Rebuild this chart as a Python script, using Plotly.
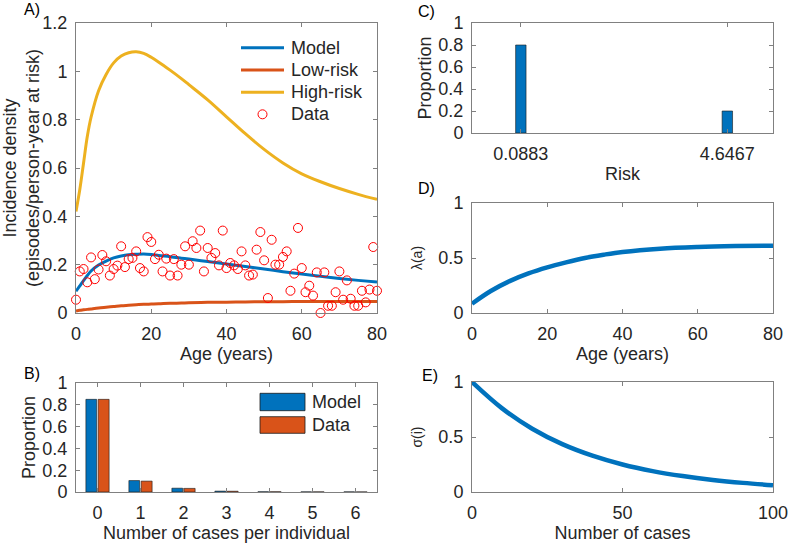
import plotly.graph_objects as go

# ---------------- data ----------------
# Panel A: incidence density data (ages 0..80)
data_age = list(range(81))
data_inc = [0.055, 0.172, 0.182, 0.127, 0.23, 0.14, 0.18, 0.24, 0.214, 0.155,
            0.182, 0.196, 0.276, 0.19, 0.223, 0.228, 0.255, 0.186, 0.172, 0.314,
            0.294, 0.223, 0.241, 0.172, 0.225, 0.155, 0.223, 0.155, 0.2, 0.276,
            0.2, 0.297, 0.269, 0.341, 0.172, 0.269, 0.228, 0.248, 0.197, 0.341,
            0.186, 0.207, 0.197, 0.182, 0.255, 0.197, 0.155, 0.159, 0.262, 0.335,
            0.218, 0.062, 0.303, 0.2, 0.2, 0.232, 0.255, 0.092, 0.163, 0.352,
            0.186, 0.086, 0.113, 0.072, 0.168, 0.0, 0.168, 0.03, 0.03, 0.086,
            0.172, 0.055, 0.135, 0.059, 0.03, 0.03, 0.092, 0.044, 0.097, 0.273,
            0.092]

curve_age = [0, 1, 2, 3, 4, 6, 8, 10, 12, 14, 16, 18, 20, 22, 25, 28, 30, 35,
             40, 45, 50, 55, 60, 65, 70, 75, 80]
model_inc = [0.09, 0.112, 0.134, 0.155, 0.174, 0.199, 0.215, 0.228, 0.236, 0.241,
             0.243, 0.244, 0.242, 0.238, 0.233, 0.227, 0.223, 0.213, 0.203, 0.192,
             0.182, 0.171, 0.161, 0.152, 0.143, 0.135, 0.128]
low_inc = [0.008, 0.011, 0.013, 0.015, 0.017, 0.021, 0.024, 0.027, 0.03, 0.032,
           0.034, 0.036, 0.037, 0.038, 0.04, 0.041, 0.042, 0.044, 0.045, 0.046,
           0.047, 0.047, 0.048, 0.048, 0.048, 0.048, 0.048]
high_inc = [0.42, 0.51, 0.62, 0.73, 0.81, 0.92, 0.987, 1.035, 1.063, 1.077,
            1.081, 1.074, 1.058, 1.038, 1.005, 0.97, 0.945, 0.882, 0.812, 0.742,
            0.677, 0.621, 0.576, 0.543, 0.515, 0.491, 0.47]
series_names = ["Model", "Low-risk", "High-risk", "Data"]

# Panel B: cases per individual
cases = [0, 1, 2, 3, 4, 5, 6]
prop_model = [0.85, 0.105, 0.035, 0.008, 0.002, 0.001, 0.001]
prop_data = [0.85, 0.1, 0.033, 0.007, 0.002, 0.001, 0.0005]
bar_names = ["Model", "Data"]

# Panel C: risk distribution
risk_vals = [0.0883, 4.6467]
risk_prop = [0.8, 0.2]
risk_labels = ["0.0883", "4.6467"]

# Panel D: lambda(a)
lam_age = [0, 5, 10, 15, 20, 25, 30, 35, 40, 50, 60, 70, 80]
lam_val = [0.085, 0.2, 0.29, 0.36, 0.415, 0.46, 0.5, 0.53, 0.555, 0.585, 0.6, 0.608, 0.612]

# Panel E: sigma(i)
sig_i = [0, 10, 20, 30, 40, 50, 60, 70, 80, 90, 100]
sig_val = [1, 0.76, 0.575, 0.435, 0.33, 0.25, 0.19, 0.145, 0.11, 0.083, 0.062]

# ---------------- style ----------------
BLUE = "#0072BD"
ORANGE = "#D95319"
YELLOW = "#EDB120"
RED = "#FF0000"
FONT = "Liberation Sans, Arial, sans-serif"
TXT = "#262626"
AX = "#808080"
EDGE = "#1a1a1a"
W, H = 788, 543
TICK_SIZE = 18
TITLE_SIZE = 18

def px_x(p):
    return p / W

def px_y(p):
    return 1 - p / H

fig = go.Figure()

# Panel A
fig.add_trace(go.Scatter(x=curve_age, y=model_inc, mode="lines", name=series_names[0],
                         line=dict(color=BLUE, width=3, shape="spline"),
                         xaxis="x", yaxis="y"))
fig.add_trace(go.Scatter(x=curve_age, y=low_inc, mode="lines", name=series_names[1],
                         line=dict(color=ORANGE, width=3, shape="spline"),
                         xaxis="x", yaxis="y"))
fig.add_trace(go.Scatter(x=curve_age, y=high_inc, mode="lines", name=series_names[2],
                         line=dict(color=YELLOW, width=3, shape="spline"),
                         xaxis="x", yaxis="y"))
fig.add_trace(go.Scatter(x=data_age, y=data_inc, mode="markers", name=series_names[3],
                         marker=dict(symbol="circle-open", size=9, color=RED,
                                     line=dict(width=1, color=RED)),
                         xaxis="x", yaxis="y", cliponaxis=False))

# Panel B
fig.add_trace(go.Bar(x=cases, y=prop_model, name=bar_names[0],
                     marker=dict(color=BLUE, line=dict(color=EDGE, width=0.6)),
                     width=0.25, offset=-0.27, xaxis="x2", yaxis="y2"))
fig.add_trace(go.Bar(x=cases, y=prop_data, name=bar_names[1],
                     marker=dict(color=ORANGE, line=dict(color=EDGE, width=0.6)),
                     width=0.255, offset=0.015, xaxis="x2", yaxis="y2"))

# Panel C
fig.add_trace(go.Bar(x=risk_vals, y=risk_prop, width=0.23,
                     marker=dict(color=BLUE, line=dict(color=EDGE, width=0.6)),
                     xaxis="x3", yaxis="y3"))

# Panel D
fig.add_trace(go.Scatter(x=lam_age, y=lam_val, mode="lines",
                         line=dict(color=BLUE, width=4.5, shape="spline"),
                         xaxis="x4", yaxis="y4"))

# Panel E
fig.add_trace(go.Scatter(x=sig_i, y=sig_val, mode="lines",
                         line=dict(color=BLUE, width=4.5, shape="spline"),
                         xaxis="x5", yaxis="y5"))

LEFT = [px_x(76), px_x(377)]
RIGHT = [px_x(472), px_x(773)]

def axis(domain, rng, tickvals=None, ticktext=None, anchor=None, title=None,
         standoff=4, title_size=TITLE_SIZE):
    d = dict(domain=domain, range=rng, showline=True, linecolor=AX, linewidth=1,
             mirror="ticks", ticks="inside", ticklen=4, tickcolor=AX,
             showgrid=False, zeroline=False, automargin=False,
             tickfont=dict(family=FONT, size=TICK_SIZE, color=TXT), anchor=anchor,
             fixedrange=True, ticklabelstandoff=4, ticklabeloverflow="allow")
    if tickvals is not None:
        d["tickmode"] = "array"
        d["tickvals"] = tickvals
    if ticktext is not None:
        d["ticktext"] = ticktext
    if title is not None:
        d["title"] = dict(text=title, font=dict(family=FONT, size=title_size, color=TXT),
                          standoff=standoff)
    return d

layout = dict(
    width=W, height=H,
    margin=dict(l=0, r=0, t=0, b=0),
    paper_bgcolor="white", plot_bgcolor="white",
    barmode="overlay",
    showlegend=False,
    font=dict(family=FONT, color=TXT),
    xaxis=axis(LEFT, [0, 80], [0, 20, 40, 60, 80], anchor="y", title="Age (years)", standoff=4),
    yaxis=axis([px_y(313), px_y(23)], [0, 1.2], [0, 0.2, 0.4, 0.6, 0.8, 1, 1.2], anchor="x",
               title="Incidence density<br>(episodes/person-year at risk)", standoff=2),
    xaxis2=axis(LEFT, [-0.5, 6.5], cases, anchor="y2", title="Number of cases per individual", standoff=5),
    yaxis2=axis([px_y(492), px_y(383)], [0, 1], [0, 0.2, 0.4, 0.6, 0.8, 1], anchor="x2",
                title="Proportion", standoff=2),
    xaxis3=axis(RIGHT, [-0.99, 5.655], risk_vals, risk_labels, anchor="y3", title="Risk", standoff=4),
    yaxis3=axis([px_y(133), px_y(23)], [0, 1], [0, 0.2, 0.4, 0.6, 0.8, 1], anchor="x3",
                title="Proportion", standoff=2),
    xaxis4=axis(RIGHT, [0, 80], [0, 20, 40, 60, 80], anchor="y4", title="Age (years)", standoff=4),
    yaxis4=axis([px_y(313), px_y(203)], [0, 1], [0, 0.5, 1], anchor="x4",
                title="λ(a)", standoff=12, title_size=14),
    xaxis5=axis(RIGHT, [0, 100], [0, 50, 100], anchor="y5", title="Number of cases", standoff=4),
    yaxis5=axis([px_y(492), px_y(382)], [0, 1], [0, 0.5, 1], anchor="x5",
                title="σ(i)", standoff=12, title_size=14),
)

annotations = []
shapes = []

# panel letters
labels = [("A)", 22, 10), ("B)", 22, 373), ("C)", 416, 12), ("D)", 416, 188), ("E)", 420, 375)]
for t, xp, yp in labels:
    annotations.append(dict(text=t, x=px_x(xp), y=px_y(yp), xref="paper", yref="paper",
                            xanchor="left", yanchor="middle", showarrow=False,
                            font=dict(family=FONT, size=16, color="#000000")))

# legend of panel A (MATLAB-style, boxless)
legA_rows = [47.7, 70, 92.3, 114.3]
legA_colors = [BLUE, ORANGE, YELLOW, RED]
for i, (name, col, yp) in enumerate(zip(series_names, legA_colors, legA_rows)):
    if i < 3:
        shapes.append(dict(type="line", xref="paper", yref="paper",
                           x0=px_x(241), x1=px_x(284), y0=px_y(yp), y1=px_y(yp),
                           line=dict(color=col, width=3)))
    else:
        shapes.append(dict(type="circle", xref="paper", yref="paper",
                           x0=px_x(258), x1=px_x(267), y0=px_y(yp + 4.5), y1=px_y(yp - 4.5),
                           line=dict(color=col, width=1)))
    annotations.append(dict(text=name, x=px_x(289), y=px_y(yp), xref="paper", yref="paper",
                            xanchor="left", yanchor="middle", showarrow=False,
                            font=dict(family=FONT, size=TICK_SIZE, color=TXT)))

# legend of panel B
legB_rows = [(393.3, 410.7), (416.7, 433.3)]
legB_colors = [BLUE, ORANGE]
for name, col, (ya, yb) in zip(bar_names, legB_colors, legB_rows):
    shapes.append(dict(type="rect", xref="paper", yref="paper",
                       x0=px_x(260), x1=px_x(305), y0=px_y(yb), y1=px_y(ya),
                       fillcolor=col, line=dict(color=EDGE, width=0.8)))
    annotations.append(dict(text=name, x=px_x(310), y=px_y((ya + yb) / 2), xref="paper", yref="paper",
                            xanchor="left", yanchor="middle", showarrow=False,
                            font=dict(family=FONT, size=TICK_SIZE, color=TXT)))

layout["annotations"] = annotations
layout["shapes"] = shapes

fig.update_layout(**layout)
fig.write_html("out.html", config=dict(displayModeBar=False),
               post_script="document.body.style.margin='0';document.body.style.overflow='hidden';")
